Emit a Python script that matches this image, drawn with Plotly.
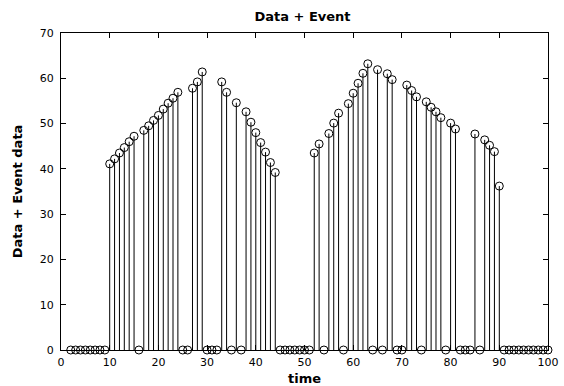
import plotly.graph_objects as go

# ---- data ----
time = list(range(2, 101))
values = (
    [0] * 8 +                                   # 2..9
    [41.1, 42.2, 43.5, 44.7, 46.0, 47.2, 0,     # 10..16
     48.5, 49.5, 50.7, 51.8, 53.2, 54.5, 55.6, 56.9,  # 17..24
     0, 0, 57.8, 59.2, 61.4, 0, 0, 0,           # 25..32
     59.2, 56.9, 0, 54.6, 0, 52.6, 50.3, 48.0,  # 33..40
     45.8, 43.7, 41.4, 39.2] +                  # 41..44
    [0] * 7 +                                   # 45..51
    [43.5, 45.5, 0, 47.8, 50.1, 52.3, 0,        # 52..58
     54.4, 56.7, 58.9, 61.1, 63.2, 0, 61.9, 0,  # 59..66
     61.0, 59.7, 0, 0, 58.5, 57.3, 55.9, 0,     # 67..74
     54.8, 53.6, 52.6, 51.3, 0, 50.1, 48.8, 0,  # 75..82
     0, 0, 47.7, 0, 46.4, 45.2, 43.8, 36.2] +   # 83..90
    [0] * 10                                    # 91..100
)
x_ticks = list(range(0, 101, 10))
y_ticks = list(range(0, 71, 10))

title_text = "Data + Event"
x_label = "time"
y_label = "Data + Event data"

BOLD = dict(family="DejaVu Sans, sans-serif", size=13, color="black", weight="bold")

fig = go.Figure()
fig.add_trace(go.Scatter(
    x=time, y=values, mode="markers",
    marker=dict(symbol="circle-open", size=8, color="black", line=dict(width=1, color="black")),
    error_y=dict(type="data", symmetric=False, array=[0] * len(values), arrayminus=values,
                 width=0, thickness=1, color="black"),
    cliponaxis=False, showlegend=False, hoverinfo="skip",
))

axis_common = dict(
    showline=True, linecolor="black", linewidth=1, mirror="ticks",
    ticks="inside", ticklen=5, tickwidth=1, tickcolor="black",
    showgrid=False, zeroline=False, automargin=False,
    tickfont=dict(family="DejaVu Sans, sans-serif", size=11, color="black"),
)

fig.update_layout(
    width=564, height=386,
    margin=dict(l=61, r=16, t=33, b=36),
    paper_bgcolor="white", plot_bgcolor="white",
    title=dict(text=title_text, x=302.5 / 564, xanchor="center", y=1 - 16.5 / 386, yanchor="middle",
               xref="container", yref="container", font=BOLD),
    xaxis=dict(range=[0, 100], tickvals=x_ticks, ticklabelstandoff=2, **axis_common,
               title=dict(text=x_label, standoff=6, font=BOLD)),
    yaxis=dict(range=[0, 70], tickvals=y_ticks, ticklabelstandoff=4, **axis_common,
               title=dict(text=y_label, standoff=14, font=BOLD)),
)

fig.write_html(
    "out.html",
    config={"displayModeBar": False},
    post_script="document.body.style.margin='0';document.body.style.overflow='hidden';",
)
